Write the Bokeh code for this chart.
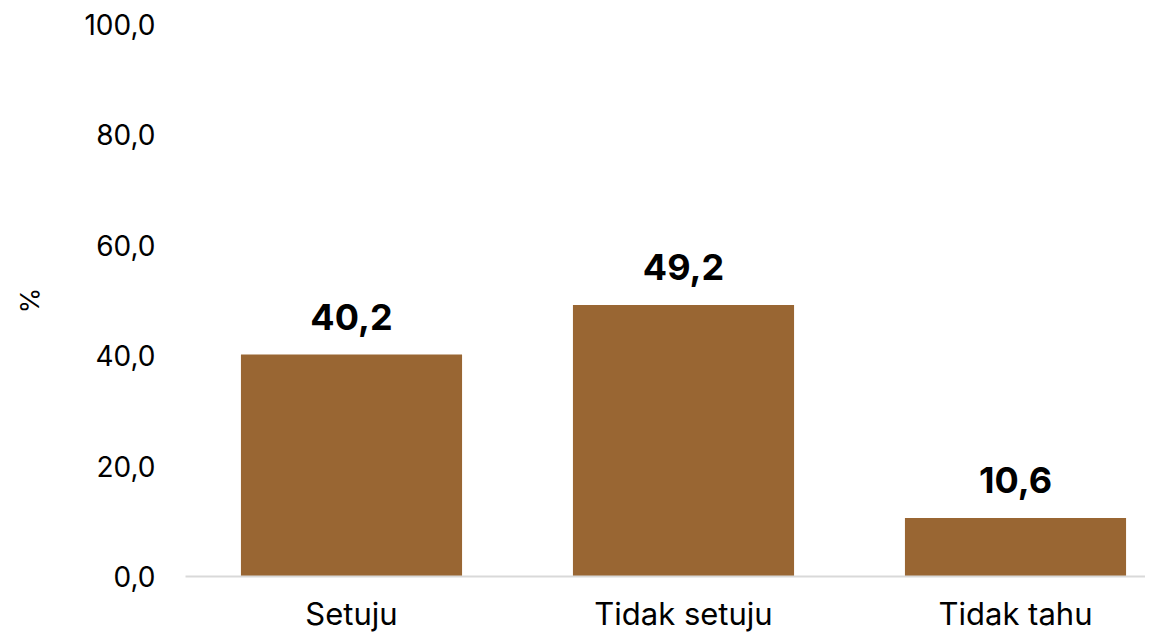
from bokeh.plotting import figure
from bokeh.models import Range1d, FixedTicker, ColumnDataSource
from bokeh.core.properties import value
from bokeh.embed import file_html
from bokeh.resources import INLINE

categories = ["Setuju", "Tidak setuju", "Tidak tahu"]
values = [40.2, 49.2, 10.6]
y_ticks = [0, 20, 40, 60, 80, 100]
y_tick_labels = ["0,0", "20,0", "40,0", "60,0", "80,0", "100,0"]
bar_labels = ["40,2", "49,2", "10,6"]

FONT = "Inter"
BAR_COLOR = "#996633"

LEFT = 185
W = 1145
xs = [i + 0.5 for i in range(len(categories))]
src = ColumnDataSource(dict(x=xs, top=values, label=bar_labels))

p = figure(width=W, height=634, output_backend="svg", toolbar_location=None,
           x_range=Range1d(0, (W - LEFT) / 332), y_range=Range1d(0, 100),
           min_border_left=LEFT, min_border_right=0, min_border_top=24, min_border_bottom=55)
p.outline_line_color = None
p.background_fill_color = "white"
p.border_fill_color = "white"
p.grid.visible = False

p.vbar(x="x", top="top", bottom=0, width=0.666, color=BAR_COLOR, line_color=None, source=src)
p.text(x="x", y="top", text="label", source=src, y_offset=-25,
       text_align="center", text_baseline="bottom",
       text_font=value(FONT), text_font_style="bold", text_font_size="36px", text_color="black")

xa = p.xaxis[0]
xa.ticker = FixedTicker(ticks=xs)
xa.major_label_overrides = {x: c for x, c in zip(xs, categories)}
xa.major_tick_line_color = None
xa.major_tick_out = 0
xa.major_tick_in = 0
xa.minor_tick_line_color = None
xa.minor_tick_out = 0
xa.axis_line_color = "#d9d9d9"
xa.axis_line_width = 2
xa.major_label_text_font = FONT
xa.major_label_text_font_size = "31px"
xa.major_label_text_color = "black"
xa.major_label_standoff = 18

ya = p.yaxis[0]
ya.ticker = FixedTicker(ticks=y_ticks)
ya.major_label_overrides = {t: l for t, l in zip(y_ticks, y_tick_labels)}
ya.major_tick_line_color = None
ya.major_tick_out = 0
ya.major_tick_in = 0
ya.minor_tick_line_color = None
ya.minor_tick_out = 0
ya.axis_line_color = None
ya.major_label_text_font = FONT
ya.major_label_text_font_size = "28px"
ya.major_label_text_color = "black"
ya.major_label_standoff = 30
ya.axis_label = "%"
ya.axis_label_text_font = FONT
ya.axis_label_text_font_style = "normal"
ya.axis_label_text_font_size = "26px"
ya.axis_label_text_color = "black"
ya.axis_label_standoff = 36

open("out.html", "w").write(file_html(p, INLINE))
